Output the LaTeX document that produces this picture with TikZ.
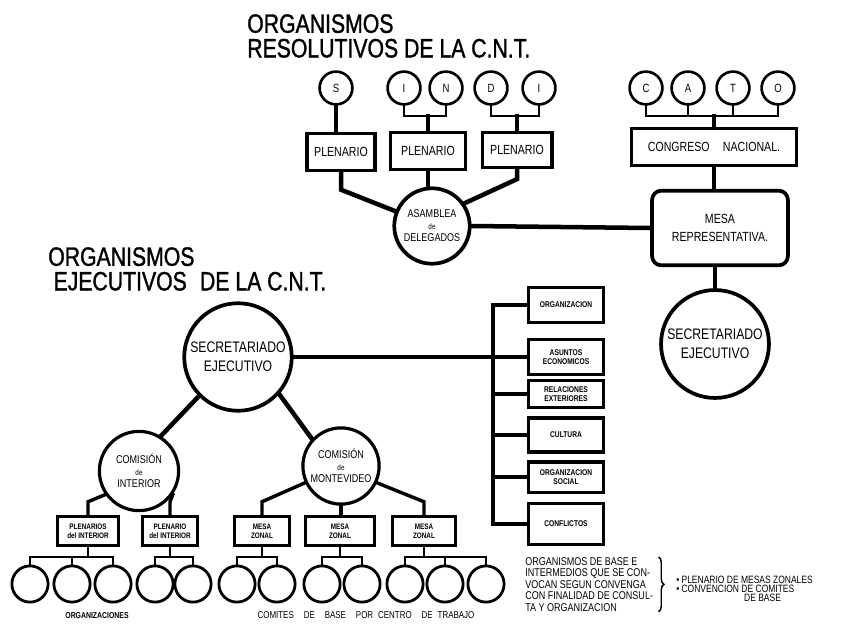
\documentclass[tikz,border=0pt]{standalone}
\usepackage{fontspec}
\setmainfont{Liberation Sans}[FakeStretch=0.8]
\newfontfamily\titulofont{Liberation Sans}[FakeStretch=0.8, FakeBold=1.2]
\usetikzlibrary{positioning, calc, decorations.pathreplacing}

\begin{document}
\begin{tikzpicture}[x=0.0265cm, y=-0.0265cm,
    organo/.style={circle, draw, line width=2.4pt, inner sep=0pt, align=center},
    letra/.style={organo, line width=2pt, minimum size=0.87cm, font=\fontsize{9}{9}\selectfont},
    comite/.style={organo, line width=2.1pt, minimum size=0.96cm},
    caja/.style={draw, line width=2.4pt, inner sep=1pt, align=center},
    area/.style={caja, minimum width=1.98cm, font=\bfseries\fontsize{6.3}{6.8}\selectfont},
    zonal/.style={caja, line width=2.2pt, minimum height=0.77cm, font=\bfseries\fontsize{6}{6.6}\selectfont},
    enlace/.style={line width=3.4pt, line cap=rect},
    rama/.style={line width=2.6pt, line cap=rect},
    fina/.style={line width=2.1pt, line cap=rect},
    titulo/.style={anchor=north west, inner sep=0pt, font=\titulofont\fontsize{20}{20}\selectfont},
    nota/.style={anchor=north west, align=left, inner sep=0pt, font=\fontsize{8.5}{8.7}\selectfont}]

    \useasboundingbox (0,0) rectangle (847,623);

    % Titles
    \node[titulo] (org1) at (247,14) {ORGANISMOS};
    \node[titulo, below=4pt of org1.south west, anchor=north west] (resolutivos) {RESOLUTIVOS DE LA C.N.T.};
    \node[titulo] (org2) at (48,247) {ORGANISMOS};
    \node[titulo, below=4pt of org2.south west, anchor=north west, xshift=4pt] (ejecutivos) {EJECUTIVOS\enspace DE LA C.N.T.};

    % SINDI and CATO
    \foreach \n/\l/\x in {cS/S/336, cI/I/404, cN/N/446, cD/D/491, cE/I/539,
                          cC/C/646, cA/A/688, cT/T/733, cO/O/778}
        \node[letra] (\n) at (\x,88) {\l};
    \coordinate (barra) at (0,116);

    \node[caja, minimum width=1.8cm, minimum height=0.96cm, font=\fontsize{10}{10}\selectfont] (pl1) at (341,152) {PLENARIO};
    \node[caja, minimum width=1.99cm, minimum height=0.98cm, font=\fontsize{10}{10}\selectfont] (pl2) at (428,151) {PLENARIO};
    \node[caja, minimum width=1.85cm, minimum height=0.93cm, font=\fontsize{10}{10}\selectfont] (pl3) at (517,150) {PLENARIO};
    \node[caja, minimum width=4.37cm, minimum height=0.98cm, font=\fontsize{10}{10}\selectfont] (cong) at (714,147) {CONGRESO\quad NACIONAL.};

    \draw[enlace] (cS.south) -- (cS.south |- pl1.north);
    \draw[fina] (cI.south) |- (barra -| cN.south) -- (cN.south);
    \draw[enlace] (pl2.north) -- (pl2.north |- barra);
    \draw[fina] (cD.south) |- (barra -| cE.south) -- (cE.south);
    \draw[enlace] (pl3.north) -- (pl3.north |- barra);
    \draw[fina] (cC.south) |- (barra -| cO.south) -- (cO.south);
    \draw[fina] (cA.south) -- (cA.south |- barra);
    \draw[fina] (cT.south) -- (cT.south |- barra);
    \draw[enlace] (cong.north) -- (cong.north |- barra);

    % Asamblea and Mesa
    \node[organo, line width=2.8pt, minimum size=2.0cm, font=\fontsize{8.5}{9}\selectfont] (asam) at (432,226) {ASAMBLEA\\{\fontsize{6}{6}\selectfont de}\\DELEGADOS};
    \node[caja, rounded corners=7pt, line width=2.8pt, minimum width=3.6cm, minimum height=1.98cm, font=\fontsize{10}{13}\selectfont] (mesa) at (720,228) {MESA\\REPRESENTATIVA.};
    \node[organo, line width=2.8pt, minimum size=2.86cm, font=\fontsize{11.5}{14}\selectfont] (secR) at (715,344) {SECRETARIADO\\EJECUTIVO};

    \draw[enlace] (pl1.south) -- ++(0,18) -- (asam.158);
    \draw[enlace] (pl2.south) -- (pl2.south |- asam.north);
    \draw[enlace] (pl3.south) -- ++(0,10) -- (asam.35);
    \draw[enlace] (asam.east) -- (mesa.west);
    \draw[enlace] (cong.south) -- (cong.south |- mesa.north);
    \draw[enlace] (secR.north |- mesa.south) -- (secR.north);

    % Ejecutivos
    \node[organo, line width=2.8pt, minimum size=2.85cm, font=\fontsize{11.5}{14}\selectfont] (secL) at (238,357) {SECRETARIADO\\EJECUTIVO};
    \node[organo, minimum size=2.1cm, font=\fontsize{8.5}{9}\selectfont] (ci) at (139,471) {COMISIÓN\\{\fontsize{6}{6}\selectfont de}\\INTERIOR};
    \node[organo, minimum size=2.02cm, font=\fontsize{8.5}{9}\selectfont] (cm) at (341,466) {COMISIÓN\\{\fontsize{6}{6}\selectfont de}\\MONTEVIDEO};

    \node[area, minimum height=0.93cm] (org) at (566,305) {ORGANIZACION};
    \node[area, minimum height=0.93cm] (eco) at (566,357) {ASUNTOS\\ECONOMICOS};
    \node[area, minimum height=0.72cm] (rel) at (566,394) {RELACIONES\\EXTERIORES};
    \node[area, minimum height=0.9cm] (cul) at (566,435) {CULTURA};
    \node[area, minimum height=0.8cm] (soc) at (566,477) {ORGANIZACION\\SOCIAL};
    \node[area, minimum height=1.1cm] (con) at (566,524) {CONFLICTOS};

    \coordinate (riel) at (493,357);
    \draw[rama] (riel |- org.west) -- (riel |- con.west);
    \foreach \b in {org,eco,rel,cul,soc,con}
        \draw[rama] (\b.west) -- (riel |- \b.west);
    \draw[enlace] (secL.east) -- (riel);

    \draw[enlace] (secL.225) -- (ci.58);
    \draw[enlace] (secL.318) -- (cm.137);

    \node[zonal, minimum width=1.62cm] (pi1) at (88,531) {PLENARIOS\\del INTERIOR};
    \node[zonal, minimum width=1.48cm] (pi2) at (170,531) {PLENARIO\\del INTERIOR};
    \node[zonal, minimum width=1.48cm] (mz1) at (262,531) {MESA\\ZONAL};
    \node[zonal, minimum width=1.85cm] (mz2) at (340,531) {MESA\\ZONAL};
    \node[zonal, minimum width=1.67cm] (mz3) at (424,531) {MESA\\ZONAL};

    \draw[rama] (ci.215) -- ([yshift=10pt]pi1.north) -- (pi1.north);
    \draw[rama] (ci.325) -- ([yshift=10pt]pi2.north) -- (pi2.north);
    \draw[rama] (cm.205) -- ([yshift=10pt]mz1.north) -- (mz1.north);
    \draw[rama] (cm.south) -- (cm.south |- mz2.north);
    \draw[rama] (cm.335) -- ([yshift=10pt]mz3.north) -- (mz3.north);

    % Comites de base
    \foreach \x [count=\i] in {30,72,113,155,193,237,277,322,362,405,445,486}
        \node[comite] (b\i) at (\x,584) {};
    \coordinate (piso) at (0,557);

    \draw[fina] (pi1.south) -- (pi1.south |- piso);
    \draw[fina] (b1.north) |- (piso -| b3.north) -- (b3.north);
    \draw[fina] (b2.north) -- (b2.north |- piso);
    \draw[fina] (pi2.south) -- (pi2.south |- piso);
    \draw[fina] (b4.north) |- (piso -| b5.north) -- (b5.north);
    \draw[fina] (mz1.south) -- (mz1.south |- piso);
    \draw[fina] (b6.north) |- (piso -| b7.north) -- (b7.north);
    \draw[fina] (mz2.south) -- (mz2.south |- piso);
    \draw[fina] (b8.north) |- (piso -| b9.north) -- (b9.north);
    \draw[fina] (mz3.south) -- (mz3.south |- piso);
    \draw[fina] (b10.north) |- (piso -| b12.north) -- (b12.north);
    \draw[fina] (b11.north) -- (b11.north |- piso);

    \node[font=\bfseries\fontsize{6.5}{6.5}\selectfont] (orgs) at (97,616) {ORGANIZACIONES};
    \node[font=\fontsize{7.5}{7.5}\selectfont] (comites) at (366,615) {COMITES\quad DE\quad BASE\quad POR\enspace CENTRO\quad DE\enspace TRABAJO};

    % Notes
    \node[nota] (intermedios) at (525,557) {ORGANISMOS DE BASE E\\INTERMEDIOS QUE SE CON-\\VOCAN SEGUN CONVENGA\\CON FINALIDAD DE CONSUL-\\TA Y ORGANIZACION};
    \draw[line width=1.1pt, decorate, decoration={brace, amplitude=4pt}]
        ([xshift=4pt]intermedios.north east) -- ([xshift=4pt]intermedios.south east);
    \node[nota, font=\fontsize{8}{6.6}\selectfont] (lista) at (676,576) {• PLENARIO DE MESAS ZONALES\\• CONVENCION DE COMITES\\\hspace{6.4em}DE BASE};
\end{tikzpicture}
\end{document}
